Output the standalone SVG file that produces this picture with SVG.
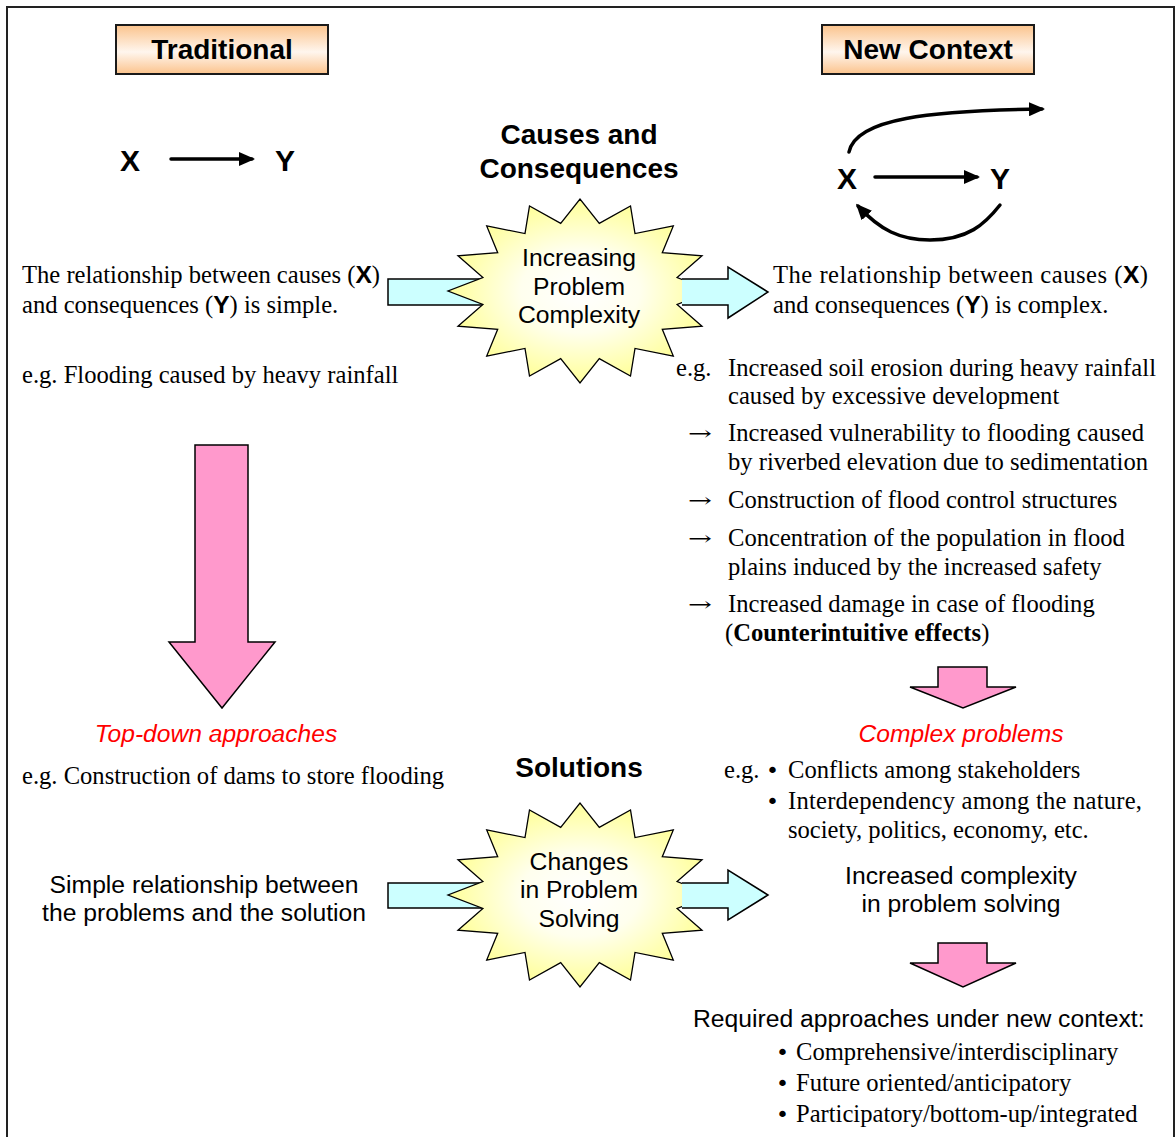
<svg xmlns="http://www.w3.org/2000/svg" width="1176" height="1137" viewBox="0 0 1176 1137">
  <defs>
    <linearGradient id="peach" x1="0" y1="0" x2="0" y2="1">
      <stop offset="0" stop-color="#FBC38C"/>
      <stop offset="0.55" stop-color="#FFF6EE"/>
      <stop offset="1" stop-color="#FBC38C"/>
    </linearGradient>
    <radialGradient id="burst" cx="0.5" cy="0.5" r="0.5">
      <stop offset="0" stop-color="#FFFFFF"/>
      <stop offset="0.45" stop-color="#FFFFEE"/>
      <stop offset="1" stop-color="#FFFF99"/>
    </radialGradient>
    <!-- 16-point star centred on the origin -->
    <polygon id="star16" points="132,0 97.1,-13.5 122,-35.2 82.3,-38.3 93.3,-65.1 55,-57.4 50.5,-85 19.3,-67.7 0,-92 -19.3,-67.7 -50.5,-85 -55,-57.4 -93.3,-65.1 -82.3,-38.3 -122,-35.2 -97.1,-13.5 -132,0 -97.1,13.5 -122,35.2 -82.3,38.3 -93.3,65.1 -55,57.4 -50.5,85 -19.3,67.7 0,92 19.3,67.7 50.5,85 55,57.4 93.3,65.1 82.3,38.3 122,35.2 97.1,13.5"/>
    <marker id="head" viewBox="0 0 16 14" markerWidth="16" markerHeight="14" refX="13" refY="7" orient="auto" markerUnits="userSpaceOnUse">
      <path d="M0,0 L16,7 L0,14 Z" fill="#000"/>
    </marker>
    <style>
      .serif { font-family: "Liberation Serif", "Times New Roman", serif; font-size: 24.6px; fill: #000; }
      .title { font-family: "Liberation Sans", Arial, sans-serif; font-weight: bold; font-size: 28px; text-anchor: middle; }
      .var { font-family: "Liberation Sans", Arial, sans-serif; font-weight: bold; font-size: 30px; }
      .body { font-family: "Liberation Sans", Arial, sans-serif; font-size: 24.7px; }
      .mid { text-anchor: middle; }
      .red { font-family: "Liberation Sans", Arial, sans-serif; font-size: 24.6px; font-style: italic; fill: #FF0000; text-anchor: middle; }
      .arrow { font-family: "DejaVu Serif", serif; font-size: 20px; }
      .dot { font-family: "DejaVu Sans", sans-serif; font-size: 22px; }
      .box { fill: url(#peach); stroke: #1a1a1a; stroke-width: 2; }
      .burst { fill: url(#burst); stroke: #000; stroke-width: 1.3; }
      .cyan { fill: #CCFFFF; stroke: #000; stroke-width: 1.5; }
      .pink { fill: #FF99CC; stroke: #000; stroke-width: 1.5; }
      .link { fill: none; stroke: #000; stroke-width: 3.5; stroke-linecap: round; marker-end: url(#head); }
      .bx { font-family: "Liberation Sans", Arial, sans-serif; font-weight: bold; }
    </style>
  </defs>

  <rect width="1176" height="1137" fill="#FFFFFF"/>
  <!-- frame -->
  <rect x="7" y="7" width="1167" height="1145" fill="none" stroke="#222" stroke-width="2"/>

  <!-- headers -->
  <g id="traditional">
    <rect class="box" x="116" y="25" width="212" height="49"/>
    <text class="title" x="222" y="59">Traditional</text>
  </g>
  <g id="new-context">
    <rect class="box" x="822" y="25" width="212" height="49"/>
    <text class="title" x="928" y="59">New Context</text>
  </g>
  <g id="causes-heading">
    <text class="title" x="579" y="144">Causes and</text>
    <text class="title" x="579" y="178">Consequences</text>
  </g>
  <g id="solutions-heading">
    <text class="title" x="579" y="777">Solutions</text>
  </g>

  <!-- simple X -> Y -->
  <g id="simple-xy">
    <text class="var" x="120" y="171">X</text>
    <text class="var" x="275" y="171">Y</text>
  </g>
  <!-- complex X <-> Y -->
  <g id="complex-xy">
    <text class="var" x="837" y="189">X</text>
    <text class="var" x="990" y="189">Y</text>
  </g>

  <!-- connectors -->
  <g id="connectors">
    <line class="link" x1="171" y1="159" x2="252" y2="159" stroke-width="3"/>
    <line class="link" x1="875" y1="177" x2="977" y2="177" stroke-width="3"/>
    <path class="link" d="M849,152 C856,118 930,111 1042,109"/>
    <path class="link" d="M1000,205 C985,224 968,240 930,240 C900,240 880,230 858,206"/>

    <!-- flow into the first starburst -->
    <path class="cyan" d="M388,279 H520 V305 H388 Z"/>
    <!-- flow into the second starburst -->
    <path class="cyan" d="M388,883 H520 V908 H388 Z"/>

    <!-- downward flows -->
    <path class="pink" d="M195,445 H248 V642 H275 L222,708 L169,642 H195 Z"/>
    <path class="pink" d="M938,667 H987 V687 H1016 L963,708 L910,687 H938 Z"/>
    <path class="pink" d="M938,943 H987 V963 H1016 L963,987 L910,963 H938 Z"/>
  </g>

  <!-- starbursts -->
  <g id="burst-complexity">
    <use href="#star16" class="burst" transform="translate(580,291)"/>
    <text class="body mid" x="579" y="266">Increasing</text>
    <text class="body mid" x="579" y="295">Problem</text>
    <text class="body mid" x="579" y="323">Complexity</text>
  </g>
  <g id="burst-solving">
    <use href="#star16" class="burst" transform="translate(580,895)"/>
    <text class="body mid" x="579" y="870">Changes</text>
    <text class="body mid" x="579" y="898">in Problem</text>
    <text class="body mid" x="579" y="927">Solving</text>
  </g>

  <!-- outgoing arrows drawn over the starbursts -->
  <g id="out-arrows">
    <path d="M682,279 H728 V267 L768,292 L728,318 V305 H682 Z" fill="#CCFFFF"/>
    <path class="cyan" d="M682,279 H728 V267 L768,292 L728,318 V305 H682"/>
    <path d="M682,883 H728 V870 L768,895 L728,920 V908 H682 Z" fill="#CCFFFF"/>
    <path class="cyan" d="M682,883 H728 V870 L768,895 L728,920 V908 H682"/>
  </g>

  <!-- traditional column text -->
  <g id="traditional-text">
    <text class="serif" x="22" y="283" textLength="358" lengthAdjust="spacing">The relationship between causes (<tspan class="bx">X</tspan>)</text>
    <text class="serif" x="22" y="313">and consequences (<tspan class="bx">Y</tspan>) is simple.</text>
    <text class="serif" x="22" y="383">e.g. Flooding caused by heavy rainfall</text>
  </g>
  <g id="top-down">
    <text class="red" x="216" y="742">Top-down approaches</text>
    <text class="serif" x="22" y="784">e.g. Construction of dams to store flooding</text>
  </g>
  <g id="simple-relationship">
    <text class="body mid" x="204" y="893">Simple relationship between</text>
    <text class="body mid" x="204" y="921">the problems and the solution</text>
  </g>

  <!-- new context column text -->
  <g id="new-context-text">
    <text class="serif" x="773" y="283" textLength="375" lengthAdjust="spacing">The relationship between causes (<tspan class="bx">X</tspan>)</text>
    <text class="serif" x="773" y="313">and consequences (<tspan class="bx">Y</tspan>) is complex.</text>
  </g>
  <g id="chain-example">
    <text class="serif" x="676" y="376">e.g.</text>
    <text class="serif" x="728" y="376" textLength="428" lengthAdjust="spacing">Increased soil erosion during heavy rainfall</text>
    <text class="serif" x="728" y="404">caused by excessive development</text>
    <text class="arrow" x="688" y="440" textLength="24" lengthAdjust="spacingAndGlyphs">→</text>
    <text class="serif" x="728" y="441" textLength="416" lengthAdjust="spacing">Increased vulnerability to flooding caused</text>
    <text class="serif" x="728" y="470">by riverbed elevation due to sedimentation</text>
    <text class="arrow" x="688" y="507" textLength="24" lengthAdjust="spacingAndGlyphs">→</text>
    <text class="serif" x="728" y="508">Construction of flood control structures</text>
    <text class="arrow" x="688" y="545" textLength="24" lengthAdjust="spacingAndGlyphs">→</text>
    <text class="serif" x="728" y="546">Concentration of the population in flood</text>
    <text class="serif" x="728" y="575">plains induced by the increased safety</text>
    <text class="arrow" x="688" y="611" textLength="24" lengthAdjust="spacingAndGlyphs">→</text>
    <text class="serif" x="728" y="612">Increased damage in case of flooding</text>
    <text class="serif" x="725" y="641">(<tspan font-weight="bold">Counterintuitive effects</tspan>)</text>
  </g>
  <g id="complex-problems">
    <text class="red" x="961" y="742">Complex problems</text>
    <text class="serif" x="724" y="778">e.g.</text>
    <text class="dot" x="766" y="778">•</text>
    <text class="serif" x="788" y="778">Conflicts among stakeholders</text>
    <text class="dot" x="766" y="809">•</text>
    <text class="serif" x="788" y="809" textLength="354" lengthAdjust="spacing">Interdependency among the nature,</text>
    <text class="serif" x="788" y="838">society, politics, economy, etc.</text>
  </g>
  <g id="increased-complexity">
    <text class="body mid" x="961" y="884">Increased complexity</text>
    <text class="body mid" x="961" y="912">in problem solving</text>
  </g>
  <g id="required-approaches">
    <text class="body" x="693" y="1027">Required approaches under new context:</text>
    <text class="dot" x="776" y="1060">•</text>
    <text class="serif" x="796" y="1060">Comprehensive/interdisciplinary</text>
    <text class="dot" x="776" y="1091">•</text>
    <text class="serif" x="796" y="1091">Future oriented/anticipatory</text>
    <text class="dot" x="776" y="1122">•</text>
    <text class="serif" x="796" y="1122">Participatory/bottom-up/integrated</text>
  </g>
</svg>
